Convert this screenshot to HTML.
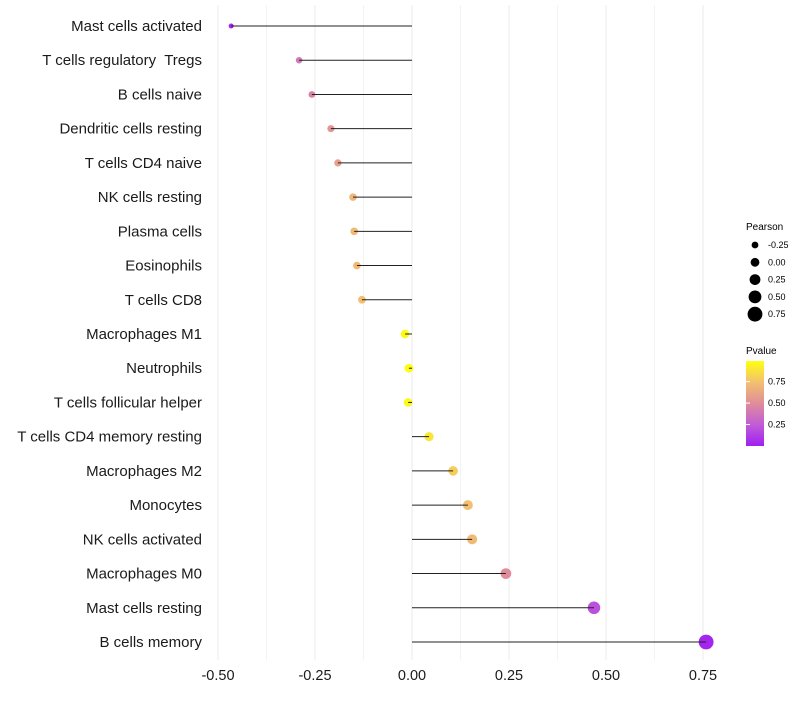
<!DOCTYPE html>
<html><head><meta charset="utf-8"><style>
body{margin:0;background:#fff;font-family:"Liberation Sans",sans-serif}
text{white-space:pre}
</style></head><body>
<svg id="chart" width="800" height="700" xmlns="http://www.w3.org/2000/svg">
<defs><linearGradient id="pg" x1="0" y1="1" x2="0" y2="0">
<stop offset="0" stop-color="#A020F0"/><stop offset="0.25" stop-color="#C05CD8"/>
<stop offset="0.5" stop-color="#E08C9A"/><stop offset="0.75" stop-color="#F2C070"/><stop offset="1" stop-color="#FFFF10"/>
</linearGradient></defs>
<g id="grid"></g><g id="dots"></g><g id="marks"></g><g id="labels"></g>
<g font-size="9">
<text x="746" y="230" font-size="10">Pearson</text>
<g id="sizeleg"></g>
</g>
<g>
<text x="746" y="354" font-size="10">Pvalue</text>
<rect x="746" y="361" width="18" height="85" fill="url(#pg)"/>
<g id="cbticks" font-size="9"></g>
</g>
</svg>
<script>
const categories=["Mast cells activated","T cells regulatory  Tregs","B cells naive","Dendritic cells resting","T cells CD4 naive","NK cells resting","Plasma cells","Eosinophils","T cells CD8","Macrophages M1","Neutrophils","T cells follicular helper","T cells CD4 memory resting","Macrophages M2","Monocytes","NK cells activated","Macrophages M0","Mast cells resting","B cells memory"];
const pearson=[-0.466,-0.291,-0.258,-0.209,-0.191,-0.152,-0.149,-0.142,-0.129,-0.018,-0.008,-0.010,0.044,0.106,0.144,0.155,0.242,0.469,0.758];
const pvalue=[0.02,0.40,0.45,0.55,0.60,0.70,0.72,0.72,0.75,0.98,0.99,0.98,0.90,0.80,0.74,0.72,0.50,0.20,0.02];
const xTicks=[-0.5,-0.25,0,0.25,0.5,0.75];
const xTickLabels=["-0.50","-0.25","0.00","0.25","0.50","0.75"];
const sizeLegend=[-0.25,0,0.25,0.5,0.75];
const sizeLegendLabels=["-0.25","0.00","0.25","0.50","0.75"];
const cbTicks=[0.25,0.5,0.75];
const cbTickLabels=["0.25","0.50","0.75"];
const NS="http://www.w3.org/2000/svg";
const x=v=>412+v*388;
const y=i=>26+i*(616/(categories.length-1));
const r=v=>4.4+v*4;
const stops=[[0,[160,32,240]],[0.25,[192,92,216]],[0.5,[224,140,154]],[0.75,[242,192,112]],[1,[255,255,16]]];
function col(p){for(let k=1;k<stops.length;k++){if(p<=stops[k][0]){const a=stops[k-1],b=stops[k],t=(p-a[0])/(b[0]-a[0]);return "rgb("+a[1].map((c,j)=>Math.round(c+(b[1][j]-c)*t)).join(",")+")";}}return "rgb(255,255,16)";}
function mk(tag,attrs,parent){const e=document.createElementNS(NS,tag);for(const k in attrs)e.setAttribute(k,attrs[k]);parent.appendChild(e);return e;}
const grid=document.getElementById('grid'),marks=document.getElementById('marks'),dots=document.getElementById('dots'),labels=document.getElementById('labels');
for(let t=-0.5;t<=0.76;t+=0.125){const g=mk('line',{x1:x(t),x2:x(t),y1:5,y2:660,stroke:Math.abs((t*4)%1)<0.01?'#ebebeb':'#f3f3f3','stroke-width':1},grid);

}
xTicks.forEach((t,i)=>{const e=mk('text',{x:x(t),y:680,'text-anchor':'middle','font-size':14.5,fill:'#1a1a1a'},labels);e.textContent=xTickLabels[i];

});
categories.forEach((c,i)=>{
const l=mk('text',{x:202,y:y(i)+5,'text-anchor':'end','font-size':15,fill:'#1a1a1a'},labels);l.textContent=c;


const d=mk('circle',{cx:x(pearson[i]),cy:y(i),r:r(pearson[i]),fill:col(pvalue[i])},dots);


const s=mk('line',{x1:x(0),x2:x(pearson[i]),y1:y(i),y2:y(i),stroke:'#222','stroke-width':1},marks);


});
const sl=document.getElementById('sizeleg');
sizeLegend.forEach((v,i)=>{const cy=245+i*17.3;
const c=mk('circle',{cx:755,cy:cy,r:r(v),fill:'#000'},sl);


const t=mk('text',{x:768,y:cy+3,'font-size':9},sl);t.textContent=sizeLegendLabels[i];

});
const cb=document.getElementById('cbticks');
cbTicks.forEach((v,i)=>{const yy=446-v*85/0.99;
const t=mk('text',{x:768,y:yy+3},cb);t.textContent=cbTickLabels[i];


const l=mk('line',{x1:746,x2:750,y1:yy,y2:yy,stroke:'#fff'},cb);
});
</script>
</body></html>
